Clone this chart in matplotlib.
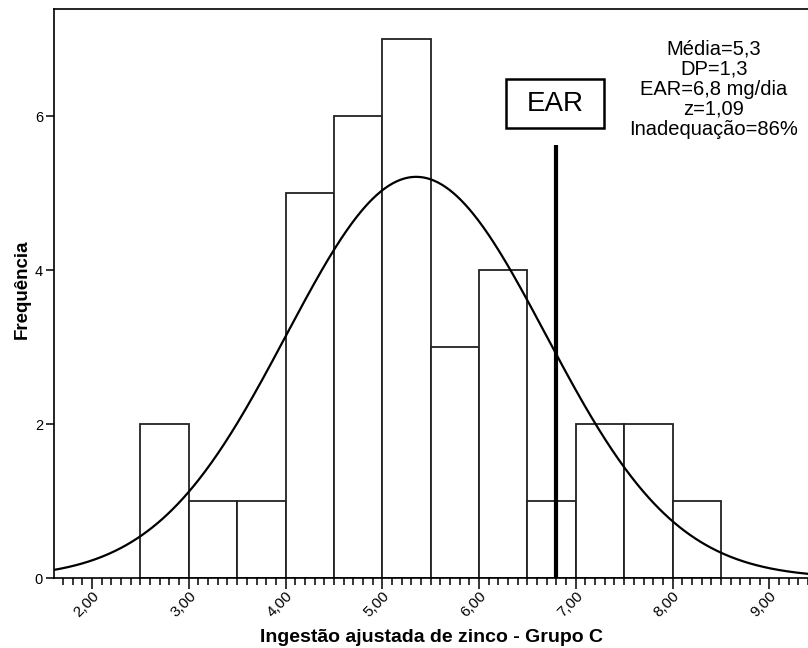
import numpy as np
import matplotlib
matplotlib.use("Agg")
import matplotlib.pyplot as plt
from matplotlib.ticker import MultipleLocator, FuncFormatter
from matplotlib.patches import Rectangle

# Data
bin_edges = [2.5, 3.0, 3.5, 4.0, 4.5, 5.0, 5.5, 6.0, 6.5, 7.0, 7.5, 8.0, 8.5]
counts = [2, 1, 1, 5, 6, 7, 3, 4, 1, 2, 2, 1]
mean_fit = 5.35
sd_fit = 1.34
ear_value = 6.8
ear_line_top = 5.62
x_ticks = [2, 3, 4, 5, 6, 7, 8, 9]
y_ticks = [0, 2, 4, 6]
stats_text = "Média=5,3\nDP=1,3\nEAR=6,8 mg/dia\nz=1,09\nInadequação=86%"

plt.rcParams['font.family'] = ['Liberation Sans', 'DejaVu Sans']

fig = plt.figure(figsize=(8.08, 6.48), dpi=100)
ax = fig.add_axes([54/808, 1-578/648, 1-54/808, (578-9)/648])

widths = np.diff(bin_edges)
ax.bar(bin_edges[:-1], counts, width=widths, align='edge', facecolor='white',
       edgecolor='#222222', linewidth=1.3, zorder=2)

n = sum(counts)
bw = widths[0]
xs = np.linspace(1.5, 9.5, 600)
ys = n * bw / (sd_fit * np.sqrt(2*np.pi)) * np.exp(-0.5*((xs-mean_fit)/sd_fit)**2)
ax.plot(xs, ys, color='black', linewidth=1.6, zorder=3)

ax.plot([ear_value, ear_value], [0, ear_line_top], color='black', linewidth=3.0,
        solid_capstyle='butt', zorder=4)

# EAR label box
box_cx, box_cy, box_w, box_h = ear_value - 0.017, 6.16, 1.01, 0.636
ax.add_patch(Rectangle((box_cx - box_w/2, box_cy - box_h/2), box_w, box_h,
                       facecolor='white', edgecolor='black', linewidth=1.8, zorder=5))
ax.text(box_cx, box_cy, "EAR", ha='center', va='center', fontsize=20, zorder=6)

ax.text(8.426, 6.35, stats_text, ha='center', va='center', fontsize=14.5,
        linespacing=1.08, zorder=5)

ax.set_xlim(1.607, 9.40)
ax.set_ylim(0, 7.39)

ax.set_xticks(x_ticks)
ax.xaxis.set_major_formatter(FuncFormatter(lambda v, p: f"{v:.2f}".replace('.', ',')))
ax.xaxis.set_minor_locator(MultipleLocator(0.1))
ax.set_yticks(y_ticks)
ax.tick_params(axis='x', which='major', length=8, width=1.1, labelsize=11, pad=0)
ax.tick_params(axis='x', which='minor', length=5, width=1.1)
ax.tick_params(axis='y', which='major', length=6, width=1.1, labelsize=10.5, pad=2)
for lab in ax.get_xticklabels():
    lab.set_rotation(45)
    lab.set_ha('right')
    lab.set_va('top')
    lab.set_rotation_mode('anchor')

ax.spines['right'].set_visible(False)
for s in ['left', 'bottom', 'top']:
    ax.spines[s].set_linewidth(1.2)

fig.text(432/808, 1-642/648, "Ingestão ajustada de zinco - Grupo C", fontsize=14,
         fontweight='bold', ha='center', va='baseline')
fig.text(22/808, 1-289/648, "Frequência", fontsize=13.5, fontweight='bold',
         rotation=90, ha='center', va='center')

fig.savefig("out.png", dpi=100)
